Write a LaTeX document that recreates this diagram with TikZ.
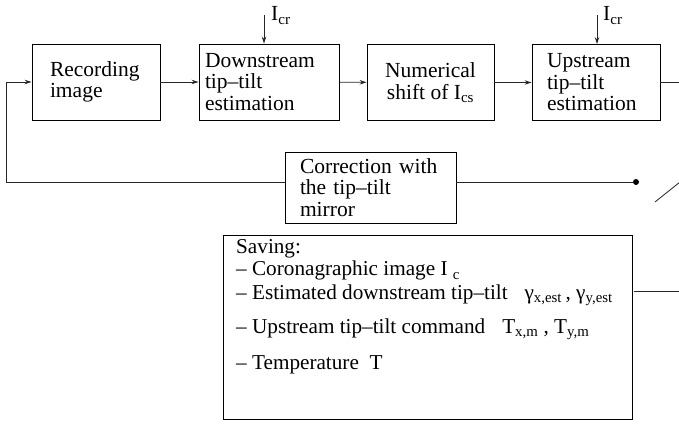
\documentclass[tikz,border=0pt]{standalone}
\usepackage{fontspec}
\setmainfont{Liberation Serif}
\usetikzlibrary{arrows.meta}
\newcommand{\blkfont}{\fontsize{21.5}{21.5}\selectfont}
\newcommand{\savfont}{\fontsize{21.2}{21.2}\selectfont}
\tikzset{
  blk/.style={draw,line width=0.9pt,minimum height=76pt,inner ysep=0pt,font=\blkfont,align=left},
  lbl/.style={inner sep=0pt,font=\blkfont},
  dot/.style={circle,fill,minimum size=6pt,inner sep=0pt},
  arr/.style={-{Stealth[length=7pt,width=4.5pt]}},
  wire/.style={line width=0.8pt,black!85}
}

\begin{document}
\begin{tikzpicture}[x=1pt,y=-1pt]
      \useasboundingbox (0,0) rectangle (679,428);
      \clip (0,0) rectangle (679,428);

      \node[blk,minimum width=128pt,inner xsep=18pt,text width=92pt] (rec) at (96,82) {Recording\\image};
      \node[blk,minimum width=140pt,inner xsep=6pt,text width=128pt] (down) at (269,82) {Downstream\\tip--tilt\\estimation};
      \node[blk,minimum width=127pt,align=center] (num) at (430.5,82.5) {Numerical\\shift of I\textsubscript{cs}};
      \node[blk,minimum width=128pt,inner xsep=15pt,text width=98pt] (up) at (596,82.5) {Upstream\\tip--tilt\\estimation};
      \node[blk,minimum width=171pt,minimum height=71pt,inner xsep=15pt,text width=141pt] (corr) at (370.5,187.5) {Correction with\\the tip--tilt\\mirror};
      \node[draw,line width=0.9pt,minimum width=409pt,minimum height=184pt,inner sep=0pt] (save) at (427.5,327) {};
      \node[anchor=north west,inner sep=0pt,font=\savfont,align=left] (savtxt) at (236,239)
        {Saving:\\[1.5pt]
         -- Coronagraphic image I \textsubscript{c}\\[2pt]
         -- Estimated downstream tip--tilt\hspace{0.8em}γ\textsubscript{x,est}\,, γ\textsubscript{y,est}\\[13.5pt]
         -- Upstream tip--tilt command\hspace{0.8em}T\textsubscript{x,m} , T\textsubscript{y,m}\\[14.5pt]
         -- Temperature\enspace T};

      % inputs I_cr
      \node[lbl,anchor=base west] (icrA) at (271,21) {I\textsubscript{cr}};
      \node[lbl,anchor=base west] (icrB) at (603,21) {I\textsubscript{cr}};
      \coordinate (inA) at (264,15);
      \coordinate (inB) at (597,15);

      % switch
      \node[dot] (swA) at (636,182) {};
      \coordinate (swB) at (655,202);
      \coordinate (loop) at (6,182);

      \draw[wire,arr] (rec) -- (down);
      \draw[wire,arr] (down) -- (num);
      \draw[wire,arr] (num) -- (up);
      \draw[wire,arr] (inA) -- (inA |- down.north);
      \draw[wire,arr] (inB) -- (inB |- up.north);
      \draw[wire] (up.east) -- ++(40,0);
      \draw[wire,arr] ([yshift=5.5pt]corr.west) -- (loop) |- (rec.west);
      \draw[wire] ([yshift=5.5pt]corr.east) -- (swA);
      \draw[wire] (swB) -- ++(35,-28);
      \draw[wire] ([xshift=2pt,yshift=-57pt]save.north east) -- ++(60,0);
    \end{tikzpicture}
\end{document}
